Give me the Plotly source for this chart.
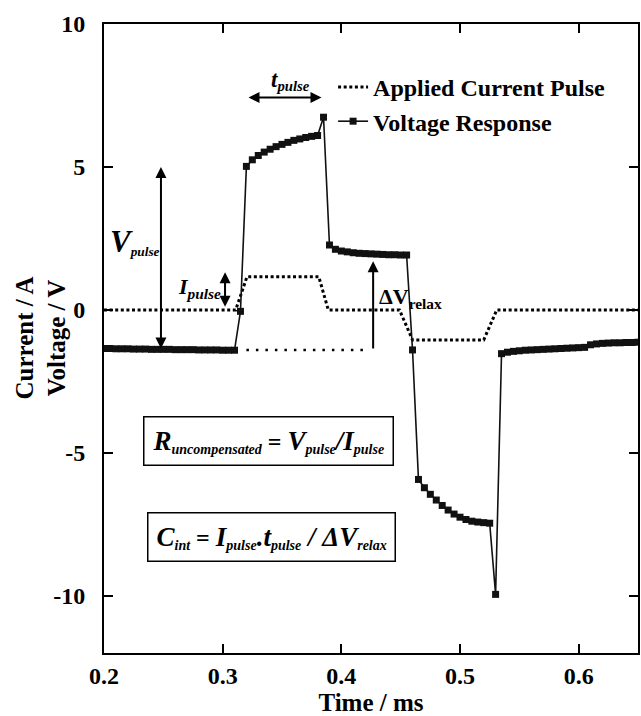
import plotly.graph_objects as go

# ---- Data ----
time_v = [0.200, 0.205, 0.210, 0.215, 0.220, 0.225, 0.230, 0.235, 0.240, 0.245,
          0.250, 0.255, 0.260, 0.265, 0.270, 0.275, 0.280, 0.285, 0.290, 0.295,
          0.300, 0.305, 0.310, 0.315, 0.320, 0.325, 0.330, 0.335, 0.340, 0.345,
          0.350, 0.355, 0.360, 0.365, 0.370, 0.375, 0.380, 0.385, 0.390, 0.395,
          0.400, 0.405, 0.410, 0.415, 0.420, 0.425, 0.430, 0.435, 0.440, 0.445,
          0.450, 0.455, 0.460, 0.465, 0.470, 0.475, 0.480, 0.485, 0.490, 0.495,
          0.500, 0.505, 0.510, 0.515, 0.520, 0.525, 0.530, 0.535, 0.540, 0.545,
          0.550, 0.555, 0.560, 0.565, 0.570, 0.575, 0.580, 0.585, 0.590, 0.595,
          0.600, 0.605, 0.610, 0.615, 0.620, 0.625, 0.630, 0.635, 0.640, 0.645,
          0.650]
voltage = [-1.35, -1.35, -1.36, -1.36, -1.36, -1.37, -1.37, -1.37, -1.38, -1.38,
           -1.38, -1.38, -1.39, -1.39, -1.39, -1.39, -1.40, -1.40, -1.40, -1.40,
           -1.41, -1.41, -1.41, -0.05, 5.02, 5.25, 5.40, 5.52, 5.62, 5.71,
           5.79, 5.86, 5.93, 5.98, 6.03, 6.07, 6.10, 6.74, 2.27, 2.12,
           2.06, 2.03, 2.00, 1.98, 1.97, 1.96, 1.95, 1.94, 1.93, 1.93,
           1.92, 1.92, -1.40, -5.93, -6.22, -6.45, -6.65, -6.84, -7.00, -7.14,
           -7.25, -7.33, -7.39, -7.42, -7.44, -7.46, -9.95, -1.53, -1.48, -1.45,
           -1.43, -1.41, -1.40, -1.39, -1.38, -1.37, -1.36, -1.35, -1.34, -1.33,
           -1.32, -1.31, -1.22, -1.19, -1.17, -1.16, -1.15, -1.15, -1.14, -1.14,
           -1.13]

time_i = [0.200, 0.311, 0.3205, 0.381, 0.389, 0.449, 0.460, 0.520, 0.531, 0.650]
current = [0.0, 0.0, 1.16, 1.16, 0.0, 0.0, -1.05, -1.05, 0.0, 0.0]

x_ticks = [0.2, 0.3, 0.4, 0.5, 0.6]
x_tick_labels = ["0.2", "0.3", "0.4", "0.5", "0.6"]
y_ticks = [-10, -5, 0, 5, 10]
y_tick_labels = ["-10", "-5", "0", "5", "10"]

FONT = "Liberation Serif"


def big(s, size):
    return f'<span style="font-size:{size}px"><b><i>{s}</i></b></span>'


def sub(s):
    return f"<sub><b><i>{s}</i></b></sub>"


fig = go.Figure()
fig.add_trace(go.Scatter(
    x=time_i, y=current, mode="lines", name="<b>Applied Current Pulse</b>",
    line=dict(color="black", width=3, dash="3px,2.6px"),
))
fig.add_trace(go.Scatter(
    x=time_v, y=voltage, mode="lines+markers", name="<b>Voltage Response</b>",
    line=dict(color="#111111", width=1.6),
    marker=dict(symbol="square", size=7, color="#111111"),
))

# sparse dotted baseline for delta V relax
fig.add_shape(type="line", x0=0.320, x1=0.424, y0=-1.40, y1=-1.40,
              xref="x", yref="y", line=dict(color="black", width=2.5, dash="2.5px,7px"))

ann = []


def arrow(x, y, ax, ay, side):
    ann.append(dict(x=x, y=y, ax=ax, ay=ay, xref="x", yref="y", axref="x", ayref="y",
                    text="", showarrow=True, arrowhead=2, startarrowhead=2,
                    arrowside=side, arrowsize=1.1, startarrowsize=1.1,
                    arrowwidth=2, arrowcolor="black"))


arrow(0.248, 5.0, 0.248, -1.40, "end+start")      # V pulse
arrow(0.302, 1.32, 0.302, 0.06, "end+start")      # I pulse
arrow(0.4268, 1.70, 0.4268, -1.40, "end")         # delta V relax
arrow(0.3833, 7.43, 0.3205, 7.43, "end+start")    # t pulse


def label(x, y, text, size):
    ann.append(dict(x=x, y=y, xref="x", yref="y", text=text, showarrow=False,
                    font=dict(family=FONT, size=size, color="black")))


label(0.3573, 8.02, big("t", 23) + sub("pulse"), 21)
label(0.2264, 2.40, big("V", 31) + sub("pulse"), 19)
label(0.2803, 0.75, big("I", 22) + sub("pulse"), 22)
label(0.4586, 0.42, "<b>ΔV</b><sub><b>relax</b></sub>", 22)

BOX = 27
ann.append(dict(x=0.3385, y=-4.57, xref="x", yref="y", showarrow=False,
                text=big("R", BOX) + sub("uncompensated") + '<span style="font-size:24px"><b> = </b></span>'
                     + big("V", BOX) + sub("pulse") + big("/I", BOX) + sub("pulse"),
                font=dict(family=FONT, size=20, color="black"),
                bordercolor="black", borderwidth=1.5, borderpad=8, bgcolor="white"))
ann.append(dict(x=0.3415, y=-7.94, xref="x", yref="y", showarrow=False,
                text=big("C", BOX) + sub("int") + '<span style="font-size:24px"><b> = </b></span>'
                     + big("I", BOX) + sub("pulse") + big(".t", BOX) + sub("pulse")
                     + big(" / ΔV", BOX) + sub("relax"),
                font=dict(family=FONT, size=20, color="black"),
                bordercolor="black", borderwidth=1.5, borderpad=8, bgcolor="white"))

# y-axis title (two lines, rotated)
ann.append(dict(x=0, y=0.5, xref="paper", yref="paper", xanchor="center", yanchor="middle",
                xshift=-64, textangle=-90, showarrow=False,
                text="<b>Current / A</b><br><b>Voltage / V</b>",
                font=dict(family=FONT, size=25, color="black")))

fig.update_layout(
    width=641, height=716,
    margin=dict(l=104, r=1, t=24, b=63),
    paper_bgcolor="white", plot_bgcolor="white",
    font=dict(family=FONT, size=20, color="black"),
    annotations=ann,
    legend=dict(x=0.429, y=0.935, xanchor="left", yanchor="top",
                bgcolor="rgba(0,0,0,0)", font=dict(family=FONT, size=24, color="black"),
                itemwidth=30, tracegroupgap=0),
    showlegend=True,
)
fig.update_xaxes(range=[0.2, 0.65], tickvals=x_ticks,
                 ticktext=[f"<b>{t}</b>" for t in x_tick_labels],
                 ticks="inside", ticklen=9,
                 tickwidth=2, tickcolor="black", showline=True, linewidth=2,
                 linecolor="black", mirror="ticks", showgrid=False, zeroline=False,
                 tickfont=dict(family=FONT, size=24, color="black"),
                 title=dict(text="<b>Time / ms</b>", standoff=2,
                            font=dict(family=FONT, size=25, color="black")))
fig.update_yaxes(range=[-12, 10], tickvals=y_ticks,
                 ticktext=[f"<b>{t}</b>" for t in y_tick_labels],
                 ticks="inside", ticklen=9, ticklabelstandoff=12,
                 tickwidth=2, tickcolor="black", showline=True, linewidth=2,
                 linecolor="black", mirror="ticks", showgrid=False, zeroline=False,
                 tickfont=dict(family=FONT, size=24, color="black"))

fig.write_html("out.html")
